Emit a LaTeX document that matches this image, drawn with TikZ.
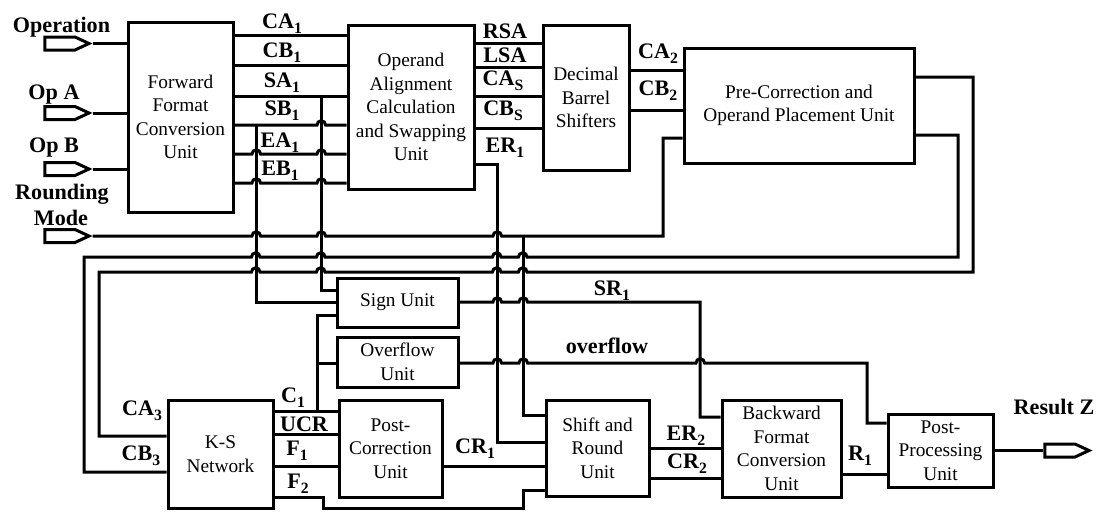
\documentclass[tikz,border=0pt]{standalone}
\usepackage{fontspec}
\setmainfont{Liberation Serif}
\usetikzlibrary{shapes.symbols,calc}
\newcommand\sbs[1]{\raisebox{-3.8pt}{\fontsize{11.8}{11.8}\selectfont #1}}
\begin{document}
\begin{tikzpicture}[x=0.75pt,y=-0.75pt,
  wire/.style={line width=2.25pt, line join=miter},
  unit/.style={draw, line width=2.25pt, align=center, inner sep=0pt, font=\fontsize{14.5}{17.6}\selectfont},
  port/.style={draw, line width=2.25pt, signal, signal to=east, signal pointer angle=50, minimum width=33pt, minimum height=9.75pt, inner sep=0pt},
  lbl/.style={font=\bfseries\fontsize{16.6}{20}\selectfont, inner sep=0pt, anchor=base}]
\useasboundingbox (0,0) rectangle (1099,512);

% units
\node[unit, minimum width=78.75pt, minimum height=142.5pt] (ffcu) at (180.5,117) {Forward\\Format\\Conversion\\Unit};
\node[unit, minimum width=94.5pt, minimum height=123pt] (oacsu) at (411,107) {Operand\\Alignment\\Calculation\\and Swapping\\Unit};
\node[unit, minimum width=64.5pt, minimum height=108.75pt] (dbs) at (586,97.5) {Decimal\\Barrel\\Shifters};
\node[unit, minimum width=172.5pt, minimum height=86.25pt] (pcop) at (799,105.5) {Pre-Correction and\\Operand Placement Unit};
\node[unit, minimum width=90.75pt, minimum height=36.75pt] (sign) at (397.5,302.5) {Sign Unit};
\node[unit, minimum width=90.75pt, minimum height=37.5pt] (ovf) at (397.5,362) {Overflow\\Unit};
\node[unit, minimum width=78.75pt, minimum height=81pt] (ks) at (220.5,454) {K-S\\Network};
\node[unit, minimum width=77.25pt, minimum height=72.75pt] (pc) at (390.5,448.5) {Post-\\Correction\\Unit};
\node[unit, minimum width=77.25pt, minimum height=72pt] (sr) at (597.5,448) {Shift and\\Round\\Unit};
\node[unit, minimum width=89.25pt, minimum height=72.75pt] (bfcu) at (781.5,448.5) {Backward\\Format\\Conversion\\Unit};
\node[unit, minimum width=78.75pt, minimum height=54.75pt] (pp) at (940.5,450.5) {Post-\\Processing\\Unit};

% ports
\node[port] (op) at (60,43.5) {};
\node[port] (opa) at (60,113) {};
\node[port] (opb) at (60,169) {};
\node[port] (rm) at (60,236) {};
\node[port] (res) at (1060,450.5) {};

% input labels
\node[lbl] (t-op) at (61.5,32) {Operation};
\node[lbl] (t-opa) at (54,99) {Op A};
\node[lbl] (t-opb) at (54,152) {Op B};
\node[lbl] (t-rnd) at (62,199) {Rounding};
\node[lbl] (t-mode) at (61,225) {Mode};
\node[lbl] (t-res) at (1054,414) {Result Z};

% tap coordinates
\coordinate (sa1tap) at (321,96);
\coordinate (sb1tap) at (256,125);
\coordinate (rmtap) at (523,236);
\coordinate (c1tap) at (317,411);
\coordinate (c1tap2) at (317,363);

% inputs
\draw[wire] (op.east) -- (ffcu.west |- op.east);
\draw[wire] (opa.east) -- (ffcu.west |- opa.east);
\draw[wire] (opb.east) -- (ffcu.west |- opb.east);

% rounding mode
\draw[wire] (rm.east) -- (252,236) arc[start angle=180,end angle=0,radius=3.2pt]
  -- (317,236) arc[start angle=180,end angle=0,radius=3.2pt]
  -- (493,236) arc[start angle=180,end angle=0,radius=3.2pt]
  -- (663,236) -- (663,138) -- (pcop.west |- 0,138);
\draw[wire] (rmtap) -- (523,415) -- (sr.west |- 0,415);

% FFCU -> OACSU
\draw[wire] (ffcu.east |- 0,35) -- (oacsu.west |- 0,35);
\draw[wire] (ffcu.east |- 0,65) -- (oacsu.west |- 0,65);
\draw[wire] (ffcu.east |- 0,96) -- (oacsu.west |- 0,96);
\draw[wire] (ffcu.east |- 0,125) -- (317,125) arc[start angle=180,end angle=0,radius=3.2pt] -- (oacsu.west |- 0,125);
\draw[wire] (ffcu.east |- 0,154) -- (252,154) arc[start angle=180,end angle=0,radius=3.2pt]
  -- (317,154) arc[start angle=180,end angle=0,radius=3.2pt] -- (oacsu.west |- 0,154);
\draw[wire] (ffcu.east |- 0,183) -- (252,183) arc[start angle=180,end angle=0,radius=3.2pt]
  -- (317,183) arc[start angle=180,end angle=0,radius=3.2pt] -- (oacsu.west |- 0,183);

% sign inputs
\draw[wire] (sa1tap) -- (321,290) -- (sign.west |- 0,290);
\draw[wire] (sb1tap) -- (256,302) -- (sign.west |- 0,302);

% OACSU -> DBS
\draw[wire] (oacsu.east |- 0,43) -- (dbs.west |- 0,43);
\draw[wire] (oacsu.east |- 0,67) -- (dbs.west |- 0,67);
\draw[wire] (oacsu.east |- 0,96) -- (dbs.west |- 0,96);
\draw[wire] (oacsu.east |- 0,128) -- (dbs.west |- 0,128);
\draw[wire] (oacsu.east |- 0,164) -- (497,164) -- (497,442) -- (sr.west |- 0,442);

% DBS -> PCOP
\draw[wire] (dbs.east |- 0,70) -- (pcop.west |- 0,70);
\draw[wire] (dbs.east |- 0,110) -- (pcop.west |- 0,110);

% PCOP loops back to K-S
\draw[wire] (pcop.east |- 0,77) -- (973,77) -- (973,272)
  -- (527,272) arc[start angle=0,end angle=180,radius=3.2pt]
  -- (501,272) arc[start angle=0,end angle=180,radius=3.2pt]
  -- (325,272) arc[start angle=0,end angle=180,radius=3.2pt]
  -- (260,272) arc[start angle=0,end angle=180,radius=3.2pt]
  -- (99,272) -- (99,436) -- (ks.west |- 0,436);
\draw[wire] (pcop.east |- 0,135) -- (958,135) -- (958,257)
  -- (527,257) arc[start angle=0,end angle=180,radius=3.2pt]
  -- (501,257) arc[start angle=0,end angle=180,radius=3.2pt]
  -- (325,257) arc[start angle=0,end angle=180,radius=3.2pt]
  -- (260,257) arc[start angle=0,end angle=180,radius=3.2pt]
  -- (84,257) -- (84,472) -- (ks.west |- 0,472);

% Sign -> BFCU, Overflow -> PP
\draw[wire] (sign.east |- 0,302) -- (493,302) arc[start angle=180,end angle=0,radius=3.2pt]
  -- (519,302) arc[start angle=180,end angle=0,radius=3.2pt]
  -- (700,302) -- (700,417) -- (bfcu.west |- 0,417);
\draw[wire] (ovf.east |- 0,363) -- (493,363) arc[start angle=180,end angle=0,radius=3.2pt]
  -- (519,363) arc[start angle=180,end angle=0,radius=3.2pt]
  -- (696,363) arc[start angle=180,end angle=0,radius=3.2pt]
  -- (867,363) -- (867,423) -- (pp.west |- 0,423);

% K-S outputs
\draw[wire] (ks.east |- 0,411) -- (pc.west |- 0,411);
\draw[wire] (c1tap) -- (317,315) -- (sign.west |- 0,315);
\draw[wire] (c1tap2) -- (ovf.west |- 0,363);
\draw[wire] (ks.east |- 0,434) -- (pc.west |- 0,434);
\draw[wire] (ks.east |- 0,466) -- (pc.west |- 0,466);
\draw[wire] (ks.east |- 0,497) -- (323,497) -- (323,508) -- (523,508) -- (523,490) -- (sr.west |- 0,490);

% lower chain
\draw[wire] (pc.east |- 0,466) -- (sr.west |- 0,466);
\draw[wire] (sr.east |- 0,448) -- (bfcu.west |- 0,448);
\draw[wire] (sr.east |- 0,478) -- (bfcu.west |- 0,478);
\draw[wire] (bfcu.east |- 0,474) -- (pp.west |- 0,474);
\draw[wire] (pp.east |- res.west) -- (res.west);

% signal labels
\node[lbl] (l-ca1) at (282,28) {CA\sbs{1}};
\node[lbl] (l-cb1) at (282,57) {CB\sbs{1}};
\node[lbl] (l-sa1) at (282,87) {SA\sbs{1}};
\node[lbl] (l-sb1) at (282,115) {SB\sbs{1}};
\node[lbl] (l-ea1) at (280,147) {EA\sbs{1}};
\node[lbl] (l-eb1) at (280,175) {EB\sbs{1}};
\node[lbl] (l-rsa) at (505,38) {RSA};
\node[lbl] (l-lsa) at (505,62) {LSA};
\node[lbl] (l-cas) at (503,85) {CA\sbs{S}};
\node[lbl] (l-cbs) at (503,115) {CB\sbs{S}};
\node[lbl] (l-er1) at (505,152) {ER\sbs{1}};
\node[lbl] (l-ca2) at (658,58) {CA\sbs{2}};
\node[lbl] (l-cb2) at (658,95) {CB\sbs{2}};
\node[lbl] (l-ca3) at (142,415) {CA\sbs{3}};
\node[lbl] (l-cb3) at (141,460) {CB\sbs{3}};
\node[lbl] (l-c1) at (293,402) {C\sbs{1}};
\node[lbl] (l-ucr) at (304,431) {UCR};
\node[lbl] (l-f1) at (297,455) {F\sbs{1}};
\node[lbl] (l-f2) at (298,488) {F\sbs{2}};
\node[lbl] (l-cr1) at (475,453) {CR\sbs{1}};
\node[lbl] (l-er2) at (686,440) {ER\sbs{2}};
\node[lbl] (l-cr2) at (687,468) {CR\sbs{2}};
\node[lbl] (l-sr1) at (612,295) {SR\sbs{1}};
\node[lbl] (l-ovf) at (607,353) {overflow};
\node[lbl] (l-r1) at (860,460) {R\sbs{1}};
\end{tikzpicture}
\end{document}
